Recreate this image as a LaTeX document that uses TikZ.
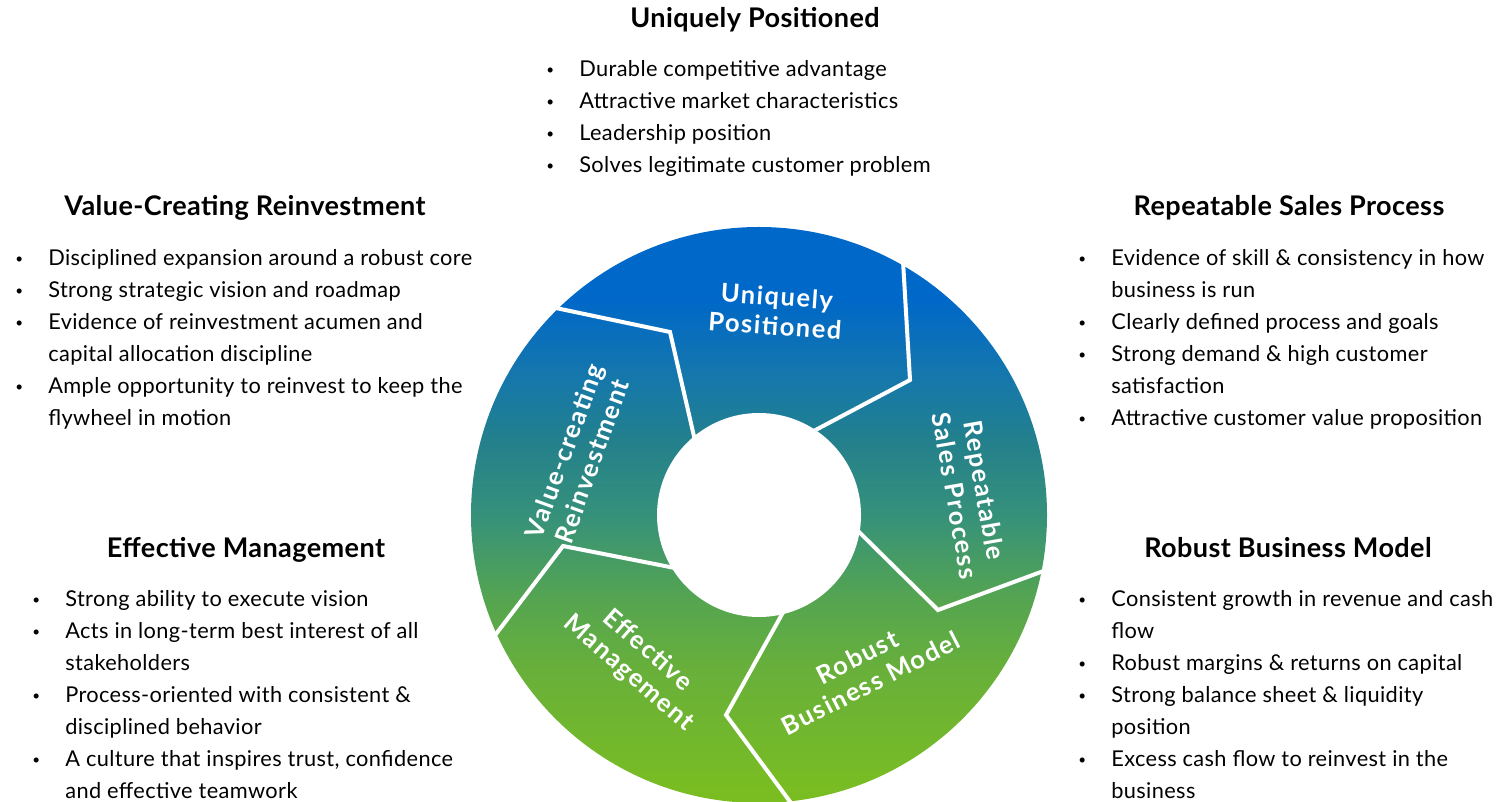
\documentclass[tikz,border=0pt]{standalone}
\usepackage{fontspec}
\usepackage{graphicx}
\setmainfont{Lato}
\newfontfamily\bodyfont[LetterSpace=1.7]{Lato}
\newfontfamily\headfont[LetterSpace=1.5]{Lato}
\newfontfamily\wheelfont[LetterSpace=6]{Lato}
\definecolor{wheelblue}{HTML}{0068C8}
\definecolor{wheelsteel}{HTML}{1678AA}
\definecolor{wheelsea}{HTML}{23808C}
\definecolor{wheelteal}{HTML}{36917A}
\definecolor{wheelleaf}{HTML}{55A550}
\definecolor{wheellime}{HTML}{68B03A}
\definecolor{wheelgreen}{HTML}{7BBE20}
\pgfdeclareverticalshading{wheel}{100bp}{color(0bp)=(wheelgreen); color(25bp)=(wheelgreen); color(36.5bp)=(wheellime); color(42.6bp)=(wheelleaf); color(50bp)=(wheelteal); color(56.5bp)=(wheelsea); color(61.7bp)=(wheelsteel); color(68.7bp)=(wheelblue); color(100bp)=(wheelblue)}
\newcommand{\bitem}[1]{\makebox[0.66cm][l]{\raisebox{0.12em}{\scalebox{0.62}{\textbullet}}} & #1 \\}
\newcommand{\bmore}[1]{ & #1 \\}
\begin{document}
\begin{tikzpicture}[x=0.02cm, y=0.02cm]
    \tikzstyle{heading} = [font=\headfont\fontsize{15.4}{18}\selectfont\bfseries, anchor=base, inner sep=0]
    \tikzstyle{points} = [font=\bodyfont\fontsize{12.4}{18.2}\selectfont, anchor=base west, inner sep=0]
    \tikzstyle{segtext} = [font=\wheelfont\fontsize{14.5}{16.8}\selectfont\bfseries, text=white, align=center, inner sep=0]
    \tikzstyle{spoke} = [white, line width=0.08cm]
    \useasboundingbox (0,0) rectangle (1500,801);

    \coordinate (hub) at (759,286);
    \shade[shading=wheel] (hub) circle (288);
    \fill[white] (hub) circle (102);
    \draw[spoke] (551,494) -- (670,469) -- (696,356);
    \draw[spoke] (903,540) -- (910,421) -- (808,367);
    \draw[spoke] (1049,232) -- (938,191) -- (855,273);
    \draw[spoke] (794,-6) -- (726,86) -- (786,194);
    \draw[spoke] (493,163) -- (563,255) -- (680,232);

    \node[segtext, rotate=-4] (uplabel) at (776,490) {Uniquely\\Positioned};
    \node[segtext, rotate=70] (vcrlabel) at (578,345) {Value-creating\\Reinvestment};
    \node[segtext, rotate=-80] (rsplabel) at (970,308) {Repeatable\\Sales Process};
    \node[segtext, rotate=-41] (emlabel) at (638,139) {Effective\\Management};
    \node[segtext, rotate=27] (rbmlabel) at (864,131) {Robust\\Business Model};

    \node[heading] (uphead) at (755,773) {Uniquely Positioned};
    \node[points] (uplist) at (546,724) {\begin{tabular}[t]{@{}l@{}l@{}}
        \bitem{Durable competitive advantage}
        \bitem{Attractive market characteristics}
        \bitem{Leadership position}
        \bitem{Solves legitimate customer problem}
    \end{tabular}};

    \node[heading] (vcrhead) at (245,585) {Value-Creating Reinvestment};
    \node[points] (vcrlist) at (15,535) {\begin{tabular}[t]{@{}l@{}l@{}}
        \bitem{Disciplined expansion around a robust core}
        \bitem{Strong strategic vision and roadmap}
        \bitem{Evidence of reinvestment acumen and}
        \bmore{capital allocation discipline}
        \bitem{Ample opportunity to reinvest to keep the}
        \bmore{flywheel in motion}
    \end{tabular}};

    \node[heading] (rsphead) at (1289,585) {Repeatable Sales Process};
    \node[points] (rsplist) at (1078,535) {\begin{tabular}[t]{@{}l@{}l@{}}
        \bitem{Evidence of skill \& consistency in how}
        \bmore{business is run}
        \bitem{Clearly defined process and goals}
        \bitem{Strong demand \& high customer}
        \bmore{satisfaction}
        \bitem{Attractive customer value proposition}
    \end{tabular}};

    \node[heading] (emhead) at (246,243) {Effective Management};
    \node[points] (emlist) at (32,194) {\begin{tabular}[t]{@{}l@{}l@{}}
        \bitem{Strong ability to execute vision}
        \bitem{Acts in long-term best interest of all}
        \bmore{stakeholders}
        \bitem{Process-oriented with consistent \&}
        \bmore{disciplined behavior}
        \bitem{A culture that inspires trust, confidence}
        \bmore{and effective teamwork}
    \end{tabular}};

    \node[heading] (rbmhead) at (1288,243) {Robust Business Model};
    \node[points] (rbmlist) at (1078,194) {\begin{tabular}[t]{@{}l@{}l@{}}
        \bitem{Consistent growth in revenue and cash}
        \bmore{flow}
        \bitem{Robust margins \& returns on capital}
        \bitem{Strong balance sheet \& liquidity}
        \bmore{position}
        \bitem{Excess cash flow to reinvest in the}
        \bmore{business}
    \end{tabular}};
\end{tikzpicture}
\end{document}
